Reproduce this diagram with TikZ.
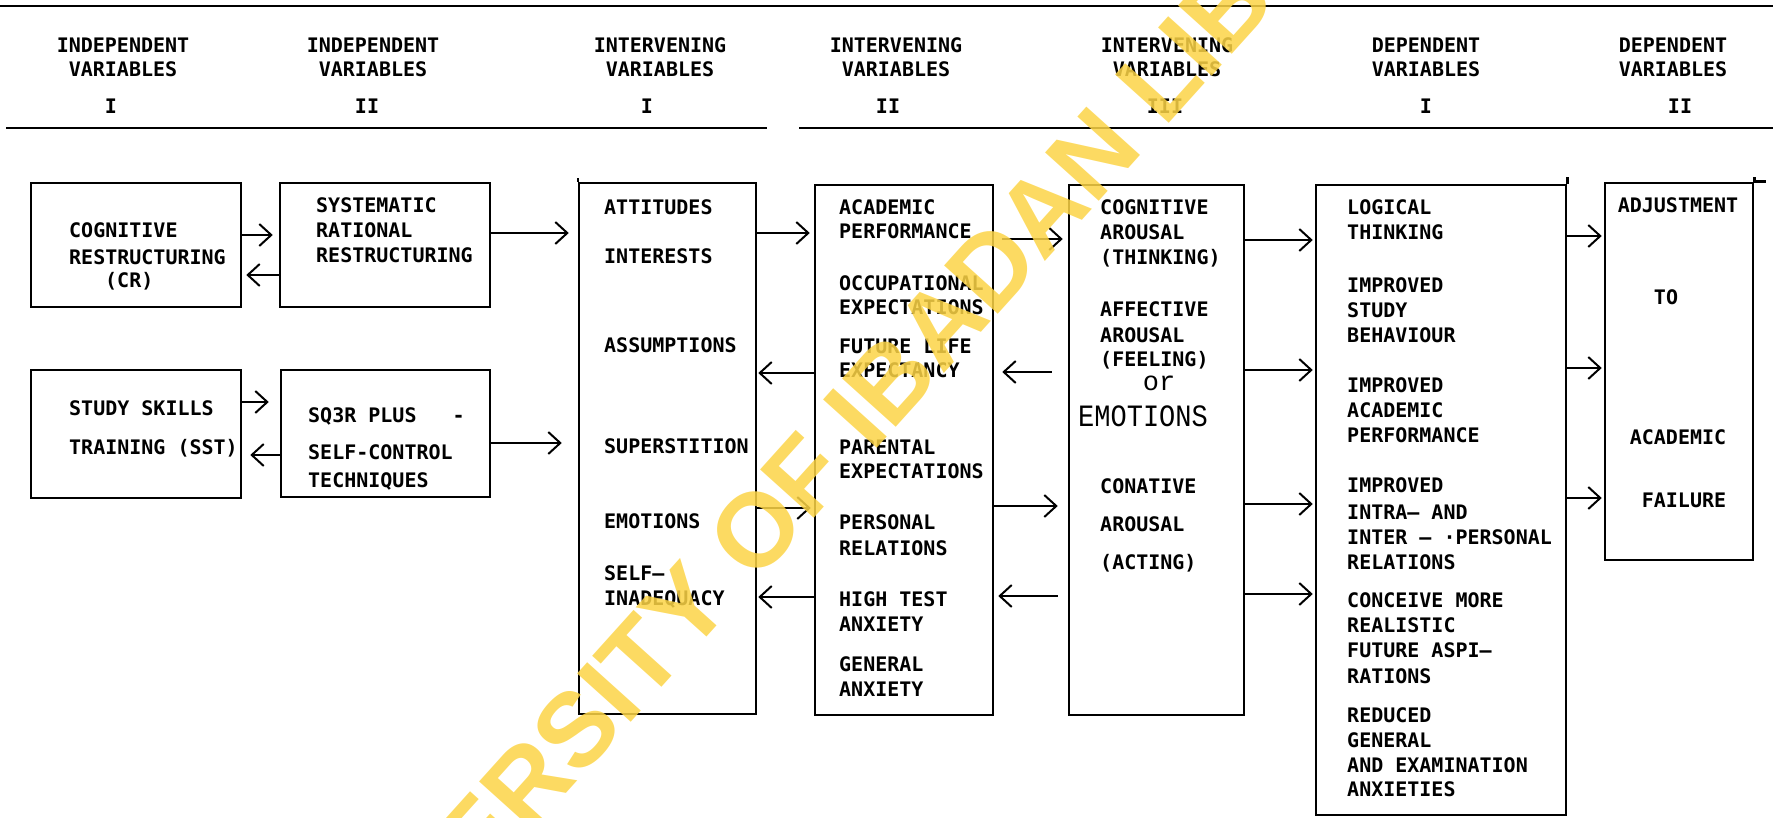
\documentclass[tikz,border=0pt]{standalone}
\usepackage{fontspec}
\usetikzlibrary{arrows.meta,fit}
\newfontfamily\typew{DejaVu Sans Mono}
\newfontfamily\courierf{Liberation Mono}
\newfontfamily\stampf{Liberation Sans}
\definecolor{stampyellow}{RGB}{252,212,70}

\begin{document}
\begin{tikzpicture}[x=1pt,y=-1pt,
  txt/.style={font=\typew\bfseries\fontsize{20}{20}\selectfont, inner sep=0pt,
              text height=14.6pt, text depth=0pt, anchor=west},
  ctr/.style={txt, anchor=center},
  panel/.style={draw, line width=2.5pt, inner sep=0pt},
  edge/.style={line width=2.5pt},
  rule/.style={line width=2.6pt},
  arr/.style={line width=2pt, -{Straight Barb[length=12pt,width=22pt]}},
]
\useasboundingbox (0,0) rectangle (1773,818);

% header rules
\coordinate (r1a) at (0,6);    \coordinate (r1b) at (1773,6);
\coordinate (r2a) at (6,128);  \coordinate (r2b) at (767,128);
\coordinate (r3a) at (799,128); \coordinate (r3b) at (1773,128);
\draw[rule] (r1a) -- (r1b);
\draw[rule] (r2a) -- (r2b);
\draw[rule] (r3a) -- (r3b);

% column headings
\foreach \x/\rx/\top/\bot/\num [count=\i] in {
   123/111/INDEPENDENT/VARIABLES/I,
   373/367/INDEPENDENT/VARIABLES/II,
   660/647/INTERVENING/VARIABLES/I,
   896/888/INTERVENING/VARIABLES/II,
   1167/1165/INTERVENING/VARIABLES/III,
   1426/1426/DEPENDENT/VARIABLES/I,
   1673/1680/DEPENDENT/VARIABLES/II} {
  \node[ctr] (h\i a) at (\x,45) {\top};
  \node[ctr] (h\i b) at (\x,69) {\bot};
  \node[ctr] (h\i c) at (\rx,106) {\num};
}

% boxes
\node[panel, fit={(31,183) (241,307)}]   (cr)   {};
\node[panel, fit={(280,183) (490,307)}]  (srr)  {};
\node[panel, fit={(31,370) (241,498)}]   (sst)  {};
\node[panel, fit={(281,370) (490,497)}]  (sq3r) {};
\node[panel, fit={(579,183) (756,714)}]  (int1) {};
\node[panel, fit={(815,185) (993,715)}]  (int2) {};
\node[panel, fit={(1069,185) (1244,715)}] (int3) {};
\node[panel, fit={(1316,185) (1566,815)}] (dep1) {};
\node[panel, fit={(1605,183) (1753,560)}] (dep2) {};

% ruled strokes running past the box corners
\draw[edge] (dep1.north east) -- ++(0,-7);
\draw[edge] (dep2.north east) -- ++(0,-5);
\draw[edge] (dep2.north east) -- ++(12,0);
\draw[edge] (int1.north west) -- ++(0,-4);

% independent variables I
\node[txt] (cr1) at (69,230) {COGNITIVE};
\node[txt] (cr2) at (69,257) {RESTRUCTURING};
\node[txt] (cr3) at (105,280) {(CR)};
\node[txt] (st1) at (69,408) {STUDY SKILLS};
\node[txt] (st2) at (69,447) {TRAINING (SST)};

% independent variables II
\foreach \y/\t [count=\i] in {205/SYSTEMATIC, 230/RATIONAL, 255/RESTRUCTURING}
  \node[txt] (sr\i) at (316,\y) {\t};
\foreach \y/\t [count=\i] in {415/SQ3R PLUS\ \ \ -, 452/SELF-CONTROL, 480/TECHNIQUES}
  \node[txt] (sq\i) at (308,\y) {\t};

% intervening variables I
\foreach \y/\t [count=\i] in {207/ATTITUDES, 256/INTERESTS, 345/ASSUMPTIONS,
    446/SUPERSTITION, 521/EMOTIONS, 573/SELF—, 598/INADEQUACY}
  \node[txt] (ia\i) at (604,\y) {\t};

% intervening variables II
\foreach \y/\t [count=\i] in {207/ACADEMIC, 231/PERFORMANCE, 283/OCCUPATIONAL,
    307/EXPECTATIONS, 346/FUTURE LIFE, 370/EXPECTANCY, 447/PARENTAL,
    471/EXPECTATIONS, 522/PERSONAL, 548/RELATIONS, 599/HIGH TEST,
    624/ANXIETY, 664/GENERAL, 689/ANXIETY}
  \node[txt] (ib\i) at (839,\y) {\t};

% intervening variables III
\foreach \y/\t [count=\i] in {207/COGNITIVE, 232/AROUSAL, 257/(THINKING),
    309/AFFECTIVE, 335/AROUSAL, 359/(FEELING), 486/CONATIVE, 524/AROUSAL,
    562/(ACTING)}
  \node[txt] (ic\i) at (1100,\y) {\t};
\node[font=\courierf\fontsize{27}{27}\selectfont, inner sep=0pt] (icor) at (1159,383) {or};
\node[font=\courierf\fontsize{27}{27}\selectfont, inner sep=0pt, yscale=1.15] (icem) at (1143,416) {EMOTIONS};

% dependent variables I
\foreach \y/\t [count=\i] in {207/LOGICAL, 232/THINKING, 285/IMPROVED, 310/STUDY,
    335/BEHAVIOUR, 385/IMPROVED, 410/ACADEMIC, 435/PERFORMANCE, 485/IMPROVED,
    512/INTRA— AND, 537/INTER — ·PERSONAL, 562/RELATIONS, 600/CONCEIVE MORE,
    625/REALISTIC, 650/FUTURE ASPI—, 676/RATIONS, 715/REDUCED, 740/GENERAL,
    765/AND EXAMINATION, 789/ANXIETIES}
  \node[txt] (da\i) at (1347,\y) {\t};

% dependent variables II
\node[ctr] (db1) at (1678,205) {ADJUSTMENT};
\node[ctr] (db2) at (1666,297) {TO};
\node[ctr] (db3) at (1678,437) {ACADEMIC};
\node[ctr] (db4) at (1684,500) {FAILURE};

% forward links
\foreach \a/\b/\y/\s/\e in {
    cr/srr/235/0/6, srr/int1/233/0/9, sst/sq3r/402/0/11, sq3r/int1/443/0/16,
    int1/int2/233/0/4, int1/int2/508/0/3, int2/int3/239/8/5, int2/int3/506/0/10,
    int3/dep1/240/0/2, int3/dep1/370/0/2, int3/dep1/504/0/2, int3/dep1/594/0/2,
    dep1/dep2/236/0/2, dep1/dep2/368/0/2, dep1/dep2/498/0/2}
  \draw[arr, shorten <=\s pt, shorten >=\e pt] (\a.east |- 0,\y) -- (\b.west |- 0,\y);

% feedback links
\foreach \a/\b/\y/\s/\e in {
    srr/cr/275/0/4, sq3r/sst/455/0/8, int2/int1/373/0/1, int2/int1/597/0/1,
    int3/int2/372/16/8, int3/int2/596/10/4}
  \draw[arr, shorten <=\s pt, shorten >=\e pt] (\a.west |- 0,\y) -- (\b.east |- 0,\y);

% library stamp
\begin{scope}
  \clip (0,0) rectangle (1773,818);
  \node[font=\stampf\bfseries\fontsize{105}{105}\selectfont, text=stampyellow,
        text opacity=0.85, rotate=48, inner sep=0pt, text height=76pt, text depth=0pt]
        (stamp) at (866,404) {UNIVERSITY OF IBADAN LIBRARY};
\end{scope}
\end{tikzpicture}
\end{document}
